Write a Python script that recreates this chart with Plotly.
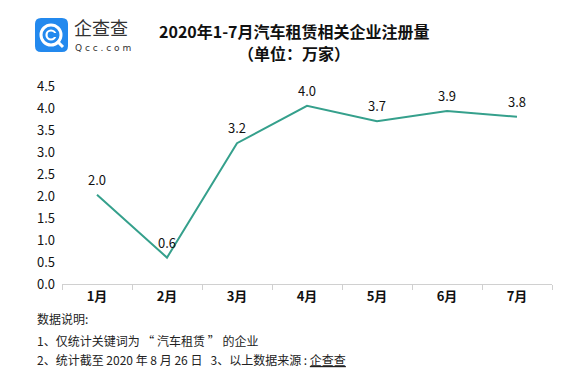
import plotly.graph_objects as go

months = ["1月", "2月", "3月", "4月", "5月", "6月", "7月"]
values = [2.03, 0.6, 3.2, 4.05, 3.7, 3.93, 3.8]
labels = ["2.0", "0.6", "3.2", "4.0", "3.7", "3.9", "3.8"]
y_ticks = [0, 0.5, 1, 1.5, 2, 2.5, 3, 3.5, 4, 4.5]

title_text = "2020年1-7月汽车租赁相关企业注册量"
subtitle_text = "（单位：万家）"
notes = [
    "数据说明:",
    "1、仅统计关键词为 “ 汽车租赁 ” 的企业",
    "2、统计截至 2020 年 8 月 26 日 \u00a0 3、以上数据来源 : <u>企查查</u>",
]

FONT = "Noto Sans CJK SC, Microsoft YaHei, sans-serif"
OFF = 8  # page body margin offset
W, H = 580 - OFF, 368 - OFF
L, R, T, B = 62 - OFF, 28, 86 - OFF, 84
PW, PH = W - L - R, H - T - B


def px(x):
    return (x - OFF - L) / PW


def py(y):
    return (H + OFF - B - y) / PH


fig = go.Figure()
fig.add_trace(go.Scatter(
    x=months, y=values, mode="lines+markers+text",
    text=labels, textposition="top center",
    textfont=dict(size=13, color="#111", family=FONT),
    line=dict(color="#35a08c", width=2),
    marker=dict(size=9, color="rgba(0,0,0,0)"),
    hoverinfo="skip", cliponaxis=False,
))

ann = []
ann.append(dict(text="<b>" + title_text + "</b>", x=px(294), y=py(31), xref="paper", yref="paper",
                showarrow=False, font=dict(size=16, color="#111", family=FONT), xanchor="center", yanchor="middle"))
ann.append(dict(text="<b>" + subtitle_text + "</b>", x=px(294), y=py(53), xref="paper", yref="paper",
                showarrow=False, font=dict(size=16, color="#111", family=FONT), xanchor="center", yanchor="middle"))
for t, yy in zip(notes, [318, 340, 359]):
    ann.append(dict(text=t, x=px(35), y=py(yy), xref="paper", yref="paper", showarrow=False,
                    font=dict(size=12, color="#222", family=FONT), xanchor="left", yanchor="middle"))
# logo texts
ann.append(dict(text="企查查", x=px(72), y=py(27), xref="paper", yref="paper", showarrow=False,
                font=dict(size=18, color="#333", family=FONT), xanchor="left", yanchor="middle"))
ann.append(dict(text="Q c c . c o m", x=px(73), y=py(48), xref="paper", yref="paper", showarrow=False,
                font=dict(size=9, color="#333", family="DejaVu Sans"), xanchor="left", yanchor="middle"))

shapes = []
# logo icon: rounded square
x0, y0, x1, y1, r = 35, 18, 68, 52, 6
path = (f"M {px(x0 + r)} {py(y0)} L {px(x1 - r)} {py(y0)} Q {px(x1)} {py(y0)} {px(x1)} {py(y0 + r)} "
        f"L {px(x1)} {py(y1 - r)} Q {px(x1)} {py(y1)} {px(x1 - r)} {py(y1)} "
        f"L {px(x0 + r)} {py(y1)} Q {px(x0)} {py(y1)} {px(x0)} {py(y1 - r)} "
        f"L {px(x0)} {py(y0 + r)} Q {px(x0)} {py(y0)} {px(x0 + r)} {py(y0)} Z")
shapes.append(dict(type="path", path=path, xref="paper", yref="paper",
                   fillcolor="#2389ee", line=dict(width=0)))
shapes.append(dict(type="circle", xref="paper", yref="paper",
                   x0=px(41), x1=px(61), y0=py(25), y1=py(45),
                   line=dict(color="white", width=3)))
shapes.append(dict(type="circle", xref="paper", yref="paper",
                   x0=px(46.5), x1=px(55.5), y0=py(30.5), y1=py(39.5),
                   line=dict(color="white", width=2.2)))
shapes.append(dict(type="rect", xref="paper", yref="paper",
                   x0=px(53), x1=px(58), y0=py(33), y1=py(37),
                   fillcolor="#2389ee", line=dict(width=0)))
shapes.append(dict(type="line", xref="paper", yref="paper",
                   x0=px(57), y0=py(41), x1=px(63), y1=py(47),
                   line=dict(color="white", width=3)))

fig.update_layout(
    width=W, height=H,
    margin=dict(l=L, r=R, t=T, b=B),
    paper_bgcolor="white", plot_bgcolor="white",
    showlegend=False,
    annotations=ann, shapes=shapes,
    font=dict(family=FONT, color="#111"),
    xaxis=dict(type="category", showgrid=False, showline=True, linecolor="#d0d0d0", linewidth=1,
               ticks="outside", tickson="boundaries", ticklen=5, tickcolor="#d0d0d0",
               tickfont=dict(size=13, color="#111", family=FONT), range=[-0.5, 6.5],
               tickprefix="<b>", ticksuffix="</b>"),
    yaxis=dict(range=[0, 4.5], tickvals=y_ticks, tickformat=".1f", showgrid=False, zeroline=False,
               showline=False, ticks="", tickfont=dict(size=13, color="#111", family=FONT), ticklabelstandoff=6),
)

fig.write_html("out.html")
